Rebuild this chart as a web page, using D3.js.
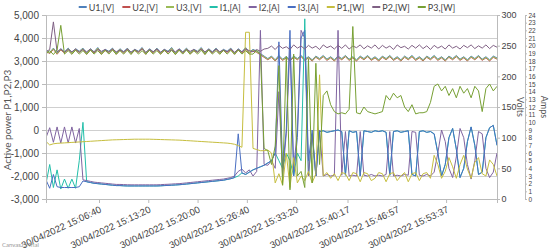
<!DOCTYPE html>
<html>
<head>
<meta charset="utf-8">
<script src="https://cdn.jsdelivr.net/npm/d3@7"></script>
<style>
  body { margin: 0; background: #fff; }
  svg { display: block; font-family: Lato, "Open Sans", sans-serif; }
</style>
</head>
<body>
<div id="chart"></div>
<script>
// Tidsakse: en måling hvert 30. sekund
const startTime = new Date(2022, 3, 30, 14, 59, 30);
const stepSeconds = 30;
const tickLabels = ["15:06:40", "15:13:20", "15:20:00", "15:26:40", "15:33:20", "15:40:17", "15:46:57", "15:53:37"];

// Spændinger [V]
const U1 = [
  243, 239, 246, 238, 245, 240, 246, 239, 245, 241,
  246, 238, 245, 240, 247, 239, 244, 241, 246, 238,
  245, 240, 246, 239, 244, 241, 247, 238, 245, 240,
  246, 239, 244, 241, 247, 238, 245, 240, 246, 239,
  244, 241, 247, 238, 245, 240, 246, 239, 244, 241,
  246, 238, 245, 240, 247, 239, 244, 241, 237, 233,
  229, 233, 227, 234, 228, 232, 227, 233, 229, 234,
  228, 232, 227, 233, 229, 234, 228, 232, 227, 233,
  229, 234, 228, 232, 227, 233, 229, 234, 228, 232,
  227, 233, 229, 234, 228, 232, 227, 233, 229, 234,
  228, 232, 227, 233, 229, 234, 228, 232, 227, 233,
  229, 234, 228, 232, 227, 233, 229, 234, 228, 232,
  227, 233, 230];
const U2 = [
  241, 237, 244, 236, 243, 238, 244, 237, 243, 239,
  244, 236, 243, 238, 245, 237, 242, 239, 244, 236,
  243, 238, 244, 237, 242, 239, 245, 236, 243, 238,
  244, 237, 242, 239, 245, 236, 243, 238, 244, 237,
  242, 239, 245, 236, 243, 238, 244, 237, 242, 239,
  244, 236, 243, 238, 245, 237, 242, 239, 235, 231,
  227, 231, 225, 232, 226, 230, 225, 231, 227, 232,
  226, 230, 225, 231, 227, 232, 226, 230, 225, 231,
  227, 232, 226, 230, 225, 231, 227, 232, 226, 230,
  225, 231, 227, 232, 226, 230, 225, 231, 227, 232,
  226, 230, 225, 231, 227, 232, 226, 230, 225, 231,
  227, 232, 226, 230, 225, 231, 227, 232, 226, 230,
  225, 231, 228];
const U3 = [
  242, 238, 245, 237, 244, 239, 245, 238, 244, 240,
  245, 237, 244, 239, 246, 238, 243, 240, 245, 237,
  244, 239, 245, 238, 243, 240, 246, 237, 244, 239,
  245, 238, 243, 240, 246, 237, 244, 239, 245, 238,
  243, 240, 246, 237, 244, 239, 245, 238, 243, 240,
  245, 237, 244, 239, 246, 238, 243, 240, 236, 232,
  228, 232, 226, 233, 227, 231, 226, 232, 228, 233,
  227, 231, 226, 232, 228, 233, 227, 231, 226, 232,
  228, 233, 227, 231, 226, 232, 228, 233, 227, 231,
  226, 232, 228, 233, 227, 231, 226, 232, 228, 233,
  227, 231, 226, 232, 228, 233, 227, 231, 226, 232,
  228, 233, 227, 231, 226, 232, 228, 233, 227, 231,
  226, 232, 229];

// Strømme [A]
const I1 = [
  2.0, 4.5, 1.5, 3.8, 1.3, 2.6, 1.4, 2.6, 1.4, 5.0,
  10.0, 2.25, 2.15, 2.05, 2.0, 1.95, 1.9, 1.85, 1.8, 1.75,
  1.75, 1.72, 1.7, 1.7, 1.7, 1.7, 1.7, 1.7, 1.7, 1.7,
  1.7, 1.72, 1.75, 1.77, 1.8, 1.83, 1.86, 1.9, 1.95, 2.0,
  2.05, 2.1, 2.15, 2.2, 2.25, 2.3, 2.35, 2.4, 2.45, 2.55,
  2.65, 2.8, 3.0, 3.4, 3.2, 3.5, 3.8, 4.0, 4.2, 4.4,
  4.7, 5.0, 6.0, 5.0, 4.0, 6.0, 5.0, 3.0, 6.0, 5.0,
  23.5, 3.0, 8.5, 3.0, 8.8, 8.9, 8.7, 8.8, 8.9, 9.0,
  8.8, 3.1, 8.9, 8.7, 8.8, 3.0, 8.9, 8.8, 8.7, 8.9,
  8.8, 8.9, 8.7, 3.1, 8.8, 8.9, 8.7, 8.8, 8.9, 3.2,
  3.0, 8.8, 8.9, 8.7, 8.8, 8.5, 6.0, 3.0, 4.5, 8.0,
  9.2, 6.5, 2.8, 4.0, 7.5, 9.4, 7.0, 3.2, 3.5, 8.0,
  9.3, 9.6, 7.0];
const I2 = [
  8.0, 9.3, 7.4, 9.4, 7.3, 9.4, 7.3, 9.4, 7.3, 9.2,
  2.5, 2.4, 2.3, 2.2, 2.15, 2.1, 2.05, 2.0, 1.95, 1.9,
  1.9, 1.88, 1.86, 1.85, 1.85, 1.85, 1.85, 1.85, 1.85, 1.85,
  1.85, 1.87, 1.9, 1.92, 1.95, 1.98, 2.0, 2.05, 2.1, 2.15,
  2.2, 2.25, 2.3, 2.35, 2.4, 2.45, 2.5, 2.55, 2.6, 2.7,
  2.8, 3.0, 3.6, 3.9, 3.4, 3.8, 3.0, 3.6, 22, 4.5,
  4.4, 5.0, 4.0, 14, 3.0, 8.5, 20, 4.0, 9.0, 22,
  21, 3.0, 8.5, 3.0, 9.0, 3.0, 3.2, 3.0, 3.1, 22,
  3.1, 8.8, 3.0, 3.1, 3.0, 8.8, 3.1, 3.0, 3.2, 3.0,
  3.1, 3.0, 3.2, 8.8, 3.0, 3.1, 3.0, 3.2, 3.1, 8.8,
  8.7, 3.1, 3.0, 3.2, 3.0, 3.5, 6.0, 9.0, 7.5, 4.0,
  2.8, 5.5, 9.2, 8.0, 4.5, 2.6, 5.0, 8.8, 8.5, 4.0,
  2.8, 3.5, 6.0];
const I3 = [
  2.5, 1.4, 3.2, 1.6, 1.5, 1.5, 1.5, 1.5, 1.5, 1.6,
  2.35, 2.25, 2.15, 2.05, 2.0, 1.95, 1.9, 1.85, 1.8, 1.75,
  1.75, 1.72, 1.7, 1.7, 1.7, 1.7, 1.7, 1.7, 1.7, 1.7,
  1.7, 1.72, 1.75, 1.77, 1.8, 1.83, 1.86, 1.9, 1.95, 2.0,
  2.05, 2.1, 2.15, 2.2, 2.25, 2.3, 2.35, 2.4, 2.45, 2.55,
  2.65, 2.8, 8.5, 3.4, 3.2, 3.5, 3.8, 4.0, 4.2, 4.4,
  4.7, 5.0, 6.0, 20.5, 4.0, 9.0, 22, 3.0, 8.0, 21,
  22, 5.0, 9.0, 3.0, 8.8, 8.9, 8.7, 8.8, 8.9, 9.0,
  8.8, 3.1, 8.9, 8.7, 8.8, 3.0, 8.9, 8.8, 8.7, 8.9,
  8.8, 8.9, 8.7, 3.1, 8.8, 8.9, 8.7, 8.8, 8.9, 3.2,
  3.0, 8.8, 8.9, 8.7, 8.8, 8.5, 6.0, 3.0, 4.5, 8.0,
  9.2, 6.5, 2.8, 4.0, 7.5, 9.4, 7.0, 3.2, 3.5, 8.0,
  9.3, 9.6, 7.0];

// Aktiv effekt [W]
const P1 = [
  -500, -650, -600, -580, -570, -560, -550, -540, -530, -520,
  -510, -500, -490, -480, -470, -460, -450, -440, -430, -425,
  -420, -415, -410, -405, -400, -400, -400, -400, -400, -405,
  -410, -415, -420, -425, -430, -435, -440, -450, -460, -470,
  -480, -490, -500, -510, -520, -530, -540, -550, -560, -570,
  -590, -620, -680, -750, 4250, 4250, -800, -850, -900, -900,
  -870, -1000, -2300, -1900, -2400, -1000, -2500, -1200, -2300, -2000,
  -2200, -1800, -2300, -1900, 2400, -2000, -1850, -2100, -1900, -2200,
  -1850, -1900, -2200, -1850, -1900, -2250, -1850, -1900, -2200, -2100,
  -1850, -1900, -2250, -1900, -1850, -2200, -2000, -1850, -2250, -1900,
  -1850, -2200, -1900, -1850, -2100, -1100, -1500, -2100, -1800, -1200,
  -1600, -2100, -1500, -1100, -1700, -2100, -1400, -1200, -1900, -2000,
  -1300, -1500, -2000];
const P2 = [
  3400, 3500, 4700, 3400, 3520, 3380, 3500, 3400, 3520, 3380,
  3500, 3400, 3520, 3380, 3500, 3420, 3500, 3380, 3520, 3400,
  3480, 3400, 3520, 3380, 3500, 3400, 3540, 3380, 3500, 3400,
  3520, 3380, 3500, 3400, 3480, 3400, 3520, 3380, 3500, 3420,
  3500, 3380, 3520, 3400, 3500, 3380, 3520, 3400, 3480, 3400,
  3520, 3380, 3500, 3400, 3520, 3450, 3400, 3500, 3420, 3520,
  3550, 3650, 3500, 3680, 3550, 3620, 3500, 3700, 3560, 3650,
  3520, 3680, 3560, 3640, 3500, 3700, 3580, 3650, 3520, 3680,
  3550, 3700, 3520, 3650, 3580, 3700, 3530, 3660, 3560, 3700,
  3520, 3680, 3560, 3650, 3500, 3700, 3580, 3640, 3520, 3680,
  3560, 3700, 3540, 3660, 3500, 3680, 3560, 3650, 3520, 3700,
  3560, 3640, 3520, 3680, 3580, 3700, 3540, 3660, 3560, 3700,
  3540, 3680, 3600];
const P3 = [
  3300, 3450, 3280, 3480, 4550, 3300, 3450, 3290, 3470, 3300,
  3450, 3290, 3480, 3300, 3450, 3280, 3470, 3300, 3480, 3290,
  3450, 3300, 3470, 3280, 3480, 3300, 3450, 3290, 3470, 3300,
  3450, 3290, 3480, 3300, 3460, 3280, 3470, 3300, 3480, 3290,
  3450, 3300, 3470, 3280, 3480, 3300, 3450, 3290, 3470, 3300,
  3460, 3290, 3480, 3300, 3450, 3300, 3300, 3470, 3300, -800,
  -900, -1500, -700, 2800, -2400, 3200, -2600, 3300, -2000, -1800,
  -2500, 3100, -2300, 2900, -1500, 1500, 1700, 1100, 800, 700,
  750, 700, 900, 4500, 750, 700, 1000, 800, 750, 700,
  750, 800, 1500, 1300, 1600, 1400, 1500, 1000, 800, 1100,
  700, 750, 750, 800, 1200, 1900, 2000, 1700, 1900, 1500,
  1800, 1400, 1900, 1600, 1800, 1400, 1900, 1700, 800, 1800,
  2000, 1700, 1900];

document.addEventListener("DOMContentLoaded", () => {
    const w = 550;
    const h = 250;
    const left = 46, right = 497, top = 15, bottom = 199; // Plotområde

    const times = U1.map((d, i) => new Date(startTime.getTime() + i * stepSeconds * 1000));
    const parseTick = d3.timeParse("%d/%m/%Y %H:%M:%S");
    const tickDates = tickLabels.map(t => parseTick("30/04/2022 " + t));

    // Skalaer
    const xScale = d3.scaleTime()
        .domain([times[0], times[times.length - 1]])
        .range([left, right]);
    const yPower = d3.scaleLinear().domain([-3000, 5000]).range([bottom, top]);
    const yVolts = d3.scaleLinear().domain([0, 300]).range([bottom, top]);
    const yAmps = d3.scaleLinear().domain([0, 24]).range([bottom, top]);

    const series = [
        { name: "U1,[V]", values: U1, color: "#4F81BC", scale: yVolts },
        { name: "U2,[V]", values: U2, color: "#C0504E", scale: yVolts },
        { name: "U3,[V]", values: U3, color: "#9BBB58", scale: yVolts },
        { name: "I1,[A]", values: I1, color: "#23BFAA", scale: yAmps },
        { name: "I2,[A]", values: I2, color: "#8064A1", scale: yAmps },
        { name: "I3,[A]", values: I3, color: "#4A6FC2", scale: yAmps },
        { name: "P1,[W]", values: P1, color: "#C6BE3E", scale: yPower },
        { name: "P2,[W]", values: P2, color: "#7F6084", scale: yPower },
        { name: "P3,[W]", values: P3, color: "#77A033", scale: yPower }
    ];

    const svg = d3.select("#chart")
        .append("svg")
        .attr("width", w)
        .attr("height", h);

    const fmt = d => d3.format(",")(d).replace("\u2212", "-");
    const powerTicks = d3.range(-3000, 5001, 1000);

    // Gitterlinjer
    svg.append("g")
        .selectAll("line")
        .data(powerTicks.filter(d => d > -3000))
        .enter()
        .append("line")
        .attr("x1", left)
        .attr("x2", right)
        .attr("y1", d => yPower(d) + 0.5)
        .attr("y2", d => yPower(d) + 0.5)
        .attr("stroke", "#cfcfcf")
        .attr("stroke-width", 1);

    // Linjer
    svg.append("clipPath").attr("id", "plotClip")
        .append("rect")
        .attr("x", left).attr("y", top - 12)
        .attr("width", right - left).attr("height", bottom - top + 12);

    const plot = svg.append("g").attr("clip-path", "url(#plotClip)");
    series.forEach(s => {
        const line = d3.line()
            .x((d, i) => xScale(times[i]))
            .y(d => s.scale(d));
        plot.append("path")
            .datum(s.values)
            .attr("d", line)
            .attr("fill", "none")
            .attr("stroke", s.color)
            .attr("stroke-width", 1)
            .attr("stroke-linejoin", "round");
    });

    // Akser
    const styleAxis = (g, size) => {
        g.select(".domain").attr("stroke", "#bbb");
        g.selectAll(".tick line").attr("stroke", "#bbb");
        g.selectAll(".tick text").attr("fill", "#444").style("font-size", size + "px");
    };

    svg.append("g")
        .attr("transform", `translate(${left}, 0)`)
        .call(d3.axisLeft(yPower).tickValues(powerTicks).tickFormat(fmt).tickSize(4).tickPadding(3))
        .call(g => styleAxis(g, 10));

    svg.append("g")
        .attr("transform", `translate(${right}, 0)`)
        .call(d3.axisRight(yVolts).tickValues(d3.range(0, 301, 50)).tickSize(3).tickPadding(1.5))
        .call(g => styleAxis(g, 9));

    svg.append("g")
        .attr("transform", `translate(525, 0)`)
        .call(d3.axisRight(yAmps).tickValues(d3.range(0, 25, 1)).tickSize(2).tickPadding(1.5))
        .call(g => styleAxis(g, 6.5));

    const xAxis = svg.append("g")
        .attr("transform", `translate(0, ${bottom})`)
        .call(d3.axisBottom(xScale).tickValues(tickDates)
            .tickFormat(d3.timeFormat("%d/%m/%Y %H:%M:%S")).tickSize(4))
        .call(g => styleAxis(g, 9.5));
    xAxis.selectAll(".tick text")
        .attr("x", -3)
        .attr("y", 6)
        .attr("dy", "0.71em")
        .attr("transform", "rotate(-25)")
        .style("text-anchor", "end");

    // Aksetitler
    svg.append("text")
        .attr("transform", "translate(7, 120) rotate(-90)")
        .attr("text-anchor", "middle")
        .attr("dy", "0.35em")
        .attr("fill", "#555")
        .style("font-size", "10px")
        .text("Active power P1,P2,P3");

    svg.append("text")
        .attr("transform", "translate(520, 107) rotate(90)")
        .attr("text-anchor", "middle")
        .attr("dy", "0.35em")
        .attr("fill", "#555")
        .style("font-size", "9px")
        .text("Volts");

    svg.append("text")
        .attr("transform", "translate(544, 107) rotate(90)")
        .attr("text-anchor", "middle")
        .attr("dy", "0.35em")
        .attr("fill", "#555")
        .style("font-size", "9px")
        .text("Amps");

    // Forklaring
    const legend = svg.append("g");
    let lx = 0;
    series.forEach(s => {
        const g = legend.append("g").attr("transform", `translate(${lx}, 0)`);
        g.append("line")
            .attr("x1", 0).attr("x2", 8)
            .attr("y1", 7).attr("y2", 7)
            .attr("stroke", s.color)
            .attr("stroke-width", 2);
        const t = g.append("text")
            .attr("x", 10)
            .attr("y", 10.5)
            .attr("fill", "#444")
            .style("font-size", "9px")
            .text(s.name);
        lx += 10 + t.node().getComputedTextLength() + 8;
    });
    legend.attr("transform", `translate(${267 - (lx - 8) / 2}, 0)`);

    // Vandmærke
    svg.append("text")
        .attr("x", 2)
        .attr("y", 247)
        .attr("fill", "#999")
        .style("font-size", "6px")
        .text("CanvasJS Trial");
});
</script>
</body>
</html>
